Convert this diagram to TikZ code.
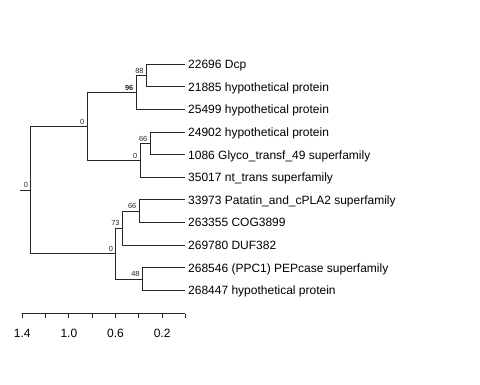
\documentclass[tikz,border=0pt]{standalone}
\usepackage{fontspec}
\setmainfont{Liberation Sans}
\usetikzlibrary{positioning,calc}

\begin{document}
\begin{tikzpicture}[
    x=1pt, y=-1pt,
    branch/.style={draw=black!85, line width=0.9pt},
    leaf/.style={inner sep=0pt, anchor=base west, yshift=-4.3pt, font=\fontsize{12}{14}\selectfont},
    boot/.style={inner sep=0pt, anchor=south east, xshift=-2.5pt, yshift=2pt, text=black!85, font=\fontsize{7.4}{8}\selectfont},
    tick/.style={inner sep=0pt, font=\fontsize{12}{14}\selectfont}
]
    \useasboundingbox (0,0) rectangle (480,384);

    % Tips
    \coordinate (t1) at (185,64.3);
    \coordinate (t2) at (185,86.9);
    \coordinate (t3) at (185,109.5);
    \coordinate (t4) at (185,132.1);
    \coordinate (t5) at (185,154.7);
    \coordinate (t6) at (185,177.3);
    \coordinate (t7) at (185,199.9);
    \coordinate (t8) at (185,222.5);
    \coordinate (t9) at (185,245.1);
    \coordinate (t10) at (185,267.7);
    \coordinate (t11) at (185,290.3);

    \node[right=3pt of t1, leaf] (dcp) {22696 Dcp};
    \node[right=3pt of t2, leaf] (hyp1) {21885 hypothetical protein};
    \node[right=3pt of t3, leaf] (hyp2) {25499 hypothetical protein};
    \node[right=3pt of t4, leaf] (hyp3) {24902 hypothetical protein};
    \node[right=3pt of t5, leaf] (glyco) {1086 Glyco\_transf\_49 superfamily};
    \node[right=3pt of t6, leaf] (nttrans) {35017 nt\_trans superfamily};
    \node[right=3pt of t7, leaf] (patatin) {33973 Patatin\_and\_cPLA2 superfamily};
    \node[right=3pt of t8, leaf] (cog) {263355 COG3899};
    \node[right=3pt of t9, leaf] (duf) {269780 DUF382};
    \node[right=3pt of t10, leaf] (pepcase) {268546 (PPC1) PEPcase superfamily};
    \node[right=3pt of t11, leaf] (hyp4) {268447 hypothetical protein};

    % Internal nodes
    \coordinate (root) at (30.7,190.0);
    \coordinate (stub) at (20,190.0);
    \coordinate (nA) at (87,126.45);
    \coordinate (nB) at (136,92.55);
    \coordinate (nC) at (146.3,75.6);
    \coordinate (nH) at (140,160.35);
    \coordinate (nI) at (150,143.4);
    \coordinate (nD) at (115.7,253.6);
    \coordinate (nE) at (122.3,228.15);
    \coordinate (nF) at (139,211.2);
    \coordinate (nG) at (142.3,279);

    % Branches
    \draw[branch] (stub) -- (root);
    \draw[branch] (root) |- (nA);
    \draw[branch] (root) |- (nD);
    \draw[branch] (nA) |- (nB);
    \draw[branch] (nA) |- (nH);
    \draw[branch] (nB) |- (nC);
    \draw[branch] (nB) |- (t3);
    \draw[branch] (nC) |- (t1);
    \draw[branch] (nC) |- (t2);
    \draw[branch] (nH) |- (nI);
    \draw[branch] (nH) |- (t6);
    \draw[branch] (nI) |- (t4);
    \draw[branch] (nI) |- (t5);
    \draw[branch] (nD) |- (nE);
    \draw[branch] (nD) |- (nG);
    \draw[branch] (nE) |- (nF);
    \draw[branch] (nE) |- (t9);
    \draw[branch] (nF) |- (t7);
    \draw[branch] (nF) |- (t8);
    \draw[branch] (nG) |- (t10);
    \draw[branch] (nG) |- (t11);

    % Support values
    \node[boot] (broot) at (root) {0};
    \node[boot] (bA) at (nA) {0};
    \node[boot, font=\fontsize{7.4}{8}\bfseries] (bB) at (nB) {96};
    \node[boot] (bC) at (nC) {88};
    \node[boot] (bH) at (nH) {0};
    \node[boot] (bI) at (nI) {66};
    \node[boot] (bD) at (nD) {0};
    \node[boot] (bE) at (nE) {73};
    \node[boot] (bF) at (nF) {66};
    \node[boot] (bG) at (nG) {48};

    % Scale axis
    \coordinate (ax0) at (22.3,313.5);
    \coordinate (ax1) at (185.3,313.5);
    \draw[branch] (ax0) -- (ax1);
    \foreach \k in {0,...,7}
        \draw[branch] ($(ax0)!\k/7!(ax1)$) -- ++(0,4);
    \node[tick] (l14) at (22.3,333) {1.4};
    \node[tick] (l10) at (68.9,333) {1.0};
    \node[tick] (l06) at (115.5,333) {0.6};
    \node[tick] (l02) at (162.1,333) {0.2};
\end{tikzpicture}
\end{document}
